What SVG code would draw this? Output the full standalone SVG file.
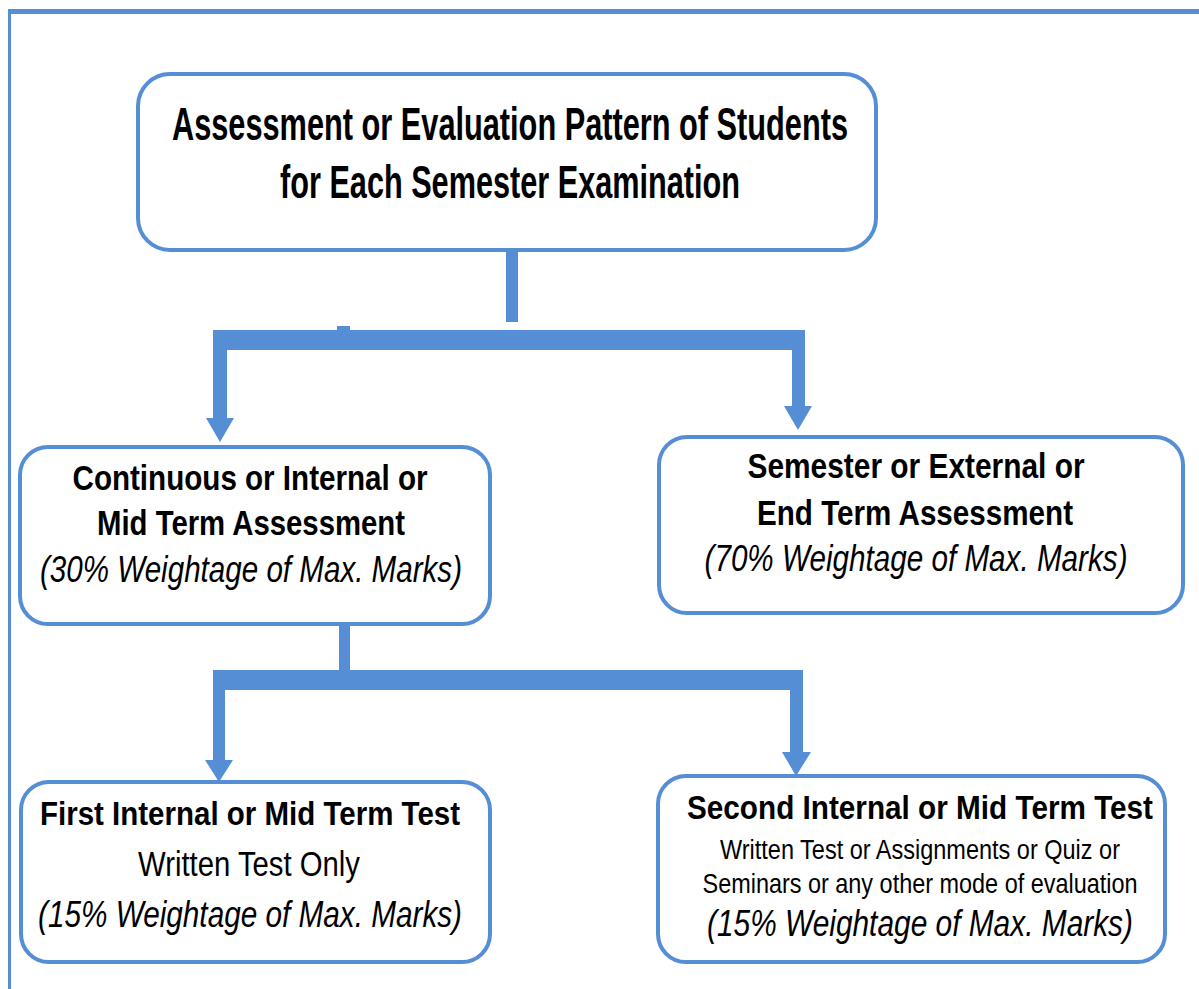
<svg xmlns="http://www.w3.org/2000/svg" width="1199" height="989" viewBox="0 0 1199 989">
<style>
.box{fill:#fff;stroke:#558ED5;stroke-width:4}
.conn{fill:#558ED5}
.b{font-family:"Liberation Sans",Arial,sans-serif;font-weight:bold;fill:#000}
.r{font-family:"Liberation Sans",Arial,sans-serif;fill:#000}
.i{font-family:"Liberation Sans",Arial,sans-serif;font-style:italic;fill:#000}
</style>
<rect width="1199" height="989" fill="#fff"/>
<g id="frame">
<rect x="8" y="9" width="1191" height="5" fill="#558ED5"/>
<rect x="8" y="9" width="3" height="980" fill="#558ED5"/>
</g>
<g id="connectors">
<rect class="conn" x="506" y="250" width="12" height="72"/>
<rect class="conn" x="337" y="326" width="13" height="6"/>
<path class="conn" d="M213,330 H805 V406 H812 L798,430 L784,406 H792 V350 H227 V418 H234 L220,442 L206,418 H213 Z"/>
<rect class="conn" x="339" y="622" width="11" height="50"/>
<path class="conn" d="M213,670 H803 V752 H811 L796,776 L782,752 H790 V690 H225 V760 H233 L219,782 L205,760 H213 Z"/>
</g>
<g id="root">
<rect class="box" x="138" y="74" width="738" height="176" rx="32"/>
<text class="b" transform="translate(510,140) scale(1,1.5)" font-size="30.6" text-anchor="middle" textLength="676" lengthAdjust="spacingAndGlyphs">Assessment or Evaluation Pattern of Students</text>
<text class="b" transform="translate(510,198) scale(1,1.5)" font-size="30.6" text-anchor="middle" textLength="460" lengthAdjust="spacingAndGlyphs">for Each Semester Examination</text>
</g>
<g id="internal">
<rect class="box" x="20" y="447" width="470" height="177" rx="28"/>
<text class="b" transform="translate(250,490) scale(1,1.19)" font-size="29.5" text-anchor="middle" textLength="355" lengthAdjust="spacingAndGlyphs">Continuous or Internal or</text>
<text class="b" transform="translate(251,535) scale(1,1.21)" font-size="29" text-anchor="middle" textLength="308" lengthAdjust="spacingAndGlyphs">Mid Term Assessment</text>
<text class="i" transform="translate(251,582) scale(1,1.26)" font-size="29.5" text-anchor="middle" textLength="422" lengthAdjust="spacingAndGlyphs">(30% Weightage of Max. Marks)</text>
</g>
<g id="external">
<rect class="box" x="659" y="437" width="524" height="176" rx="28"/>
<text class="b" transform="translate(916,478) scale(1,1.18)" font-size="29.8" text-anchor="middle" textLength="337" lengthAdjust="spacingAndGlyphs">Semester or External or</text>
<text class="b" transform="translate(915,525) scale(1,1.2)" font-size="29.2" text-anchor="middle" textLength="316" lengthAdjust="spacingAndGlyphs">End Term Assessment</text>
<text class="i" transform="translate(916,571) scale(1,1.25)" font-size="29.6" text-anchor="middle" textLength="423" lengthAdjust="spacingAndGlyphs">(70% Weightage of Max. Marks)</text>
</g>
<g id="first">
<rect class="box" x="21" y="782" width="469" height="180" rx="28"/>
<text class="b" transform="translate(250,825) scale(1,1.13)" font-size="29.1" text-anchor="middle" textLength="420" lengthAdjust="spacingAndGlyphs">First Internal or Mid Term Test</text>
<text class="r" transform="translate(249,876) scale(1,1.22)" font-size="28.7" text-anchor="middle" textLength="222" lengthAdjust="spacingAndGlyphs">Written Test Only</text>
<text class="i" transform="translate(250,927) scale(1,1.25)" font-size="29.6" text-anchor="middle" textLength="424" lengthAdjust="spacingAndGlyphs">(15% Weightage of Max. Marks)</text>
</g>
<g id="second">
<rect class="box" x="658" y="776" width="507" height="186" rx="28"/>
<text class="b" transform="translate(920,819) scale(1,1.12)" font-size="29.4" text-anchor="middle" textLength="466" lengthAdjust="spacingAndGlyphs">Second Internal or Mid Term Test</text>
<text class="r" transform="translate(920,859) scale(1,1.2)" font-size="23.2" text-anchor="middle" textLength="400" lengthAdjust="spacingAndGlyphs">Written Test or Assignments or Quiz or</text>
<text class="r" transform="translate(920,893) scale(1,1.2)" font-size="23.4" text-anchor="middle" textLength="435" lengthAdjust="spacingAndGlyphs">Seminars or any other mode of evaluation</text>
<text class="i" transform="translate(920,936) scale(1,1.25)" font-size="29.7" text-anchor="middle" textLength="426" lengthAdjust="spacingAndGlyphs">(15% Weightage of Max. Marks)</text>
</g>
</svg>
